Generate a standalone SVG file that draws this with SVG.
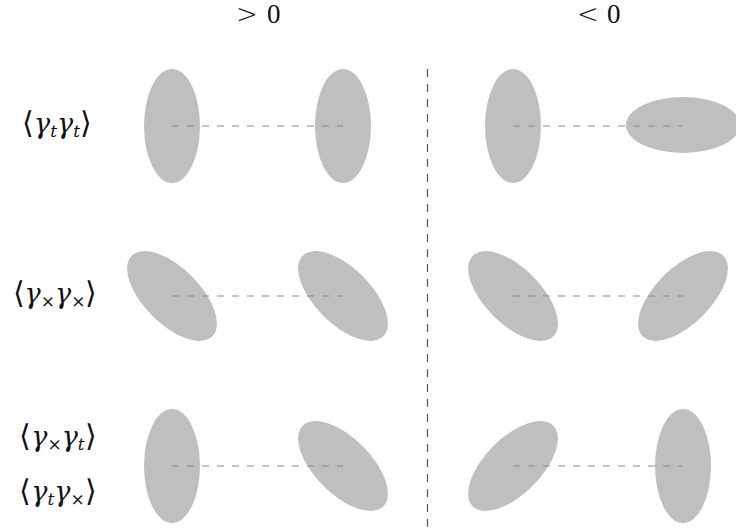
<svg xmlns="http://www.w3.org/2000/svg" width="736" height="529" viewBox="0 0 736 529">
  <style>
    .blob { fill: #bfbfbf; }
    .link { stroke: #8a8a8a; stroke-width: 1.2; stroke-dasharray: 7 8; fill: none; }
    .divider { stroke: #555; stroke-width: 1.2; stroke-dasharray: 8 7; fill: none; }
    .lbl { font-family: "DejaVu Serif", "Liberation Serif", serif; font-size: 27px; fill: #111; }
    .rel { font-family: "DejaVu Sans", sans-serif; font-weight: 300; font-size: 26px; fill: #111; }
    .num { font-family: "Liberation Serif", "DejaVu Serif", serif; font-size: 27px; fill: #111; }
    .it { font-style: italic; }
    .sub { font-size: 17px; }
    .br { font-family: "DejaVu Sans", sans-serif; font-weight: 300; font-size: 30px; }
  </style>

  <!-- column headers -->
  <g id="header-pos">
    <text class="rel" x="236" y="23" textLength="22">&gt;</text>
    <text class="num" x="267" y="23">0</text>
  </g>
  <g id="header-neg">
    <text class="rel" x="577" y="23" textLength="22">&lt;</text>
    <text class="num" x="607" y="23">0</text>
  </g>

  <!-- row labels -->
  <g id="label-tt">
    <text class="lbl" x="57" y="133" text-anchor="middle"><tspan class="br">⟨</tspan><tspan class="it">γ</tspan><tspan class="it sub" dy="4">t</tspan><tspan class="it" dy="-4">γ</tspan><tspan class="it sub" dy="4">t</tspan><tspan class="br" dy="-4">⟩</tspan></text>
  </g>
  <g id="label-xx">
    <text class="lbl" x="55" y="303" text-anchor="middle"><tspan class="br">⟨</tspan><tspan class="it">γ</tspan><tspan class="sub" dy="4">×</tspan><tspan class="it" dy="-4">γ</tspan><tspan class="sub" dy="4">×</tspan><tspan class="br" dy="-4">⟩</tspan></text>
  </g>
  <g id="label-xt">
    <text class="lbl" x="58" y="446" text-anchor="middle"><tspan class="br">⟨</tspan><tspan class="it">γ</tspan><tspan class="sub" dy="4">×</tspan><tspan class="it" dy="-4">γ</tspan><tspan class="it sub" dy="4">t</tspan><tspan class="br" dy="-4">⟩</tspan></text>
  </g>
  <g id="label-tx">
    <text class="lbl" x="58" y="501" text-anchor="middle"><tspan class="br">⟨</tspan><tspan class="it">γ</tspan><tspan class="it sub" dy="4">t</tspan><tspan class="it" dy="-4">γ</tspan><tspan class="sub" dy="4">×</tspan><tspan class="br" dy="-4">⟩</tspan></text>
  </g>

  <!-- ellipse pairs -->
  <g id="r1-pos-a"><ellipse class="blob" cx="172" cy="126" rx="28" ry="57"/></g>
  <g id="r1-pos-b"><ellipse class="blob" cx="343" cy="126" rx="28" ry="57"/></g>
  <g id="r1-neg-a"><ellipse class="blob" cx="513" cy="126" rx="28" ry="57"/></g>
  <g id="r1-neg-b"><ellipse class="blob" cx="683" cy="125" rx="57" ry="28"/></g>

  <g id="r2-pos-a"><ellipse class="blob" cx="172" cy="296" rx="57" ry="28" transform="rotate(45 172 296)"/></g>
  <g id="r2-pos-b"><ellipse class="blob" cx="343" cy="296" rx="57" ry="28" transform="rotate(45 343 296)"/></g>
  <g id="r2-neg-a"><ellipse class="blob" cx="513" cy="296" rx="57" ry="28" transform="rotate(45 513 296)"/></g>
  <g id="r2-neg-b"><ellipse class="blob" cx="683" cy="296" rx="57" ry="28" transform="rotate(-45 683 296)"/></g>

  <g id="r3-pos-a"><ellipse class="blob" cx="172" cy="466" rx="28" ry="57"/></g>
  <g id="r3-pos-b"><ellipse class="blob" cx="343" cy="466" rx="57" ry="28" transform="rotate(45 343 466)"/></g>
  <g id="r3-neg-a"><ellipse class="blob" cx="513" cy="466" rx="57" ry="28" transform="rotate(-45 513 466)"/></g>
  <g id="r3-neg-b"><ellipse class="blob" cx="683" cy="466" rx="28" ry="57"/></g>

  <!-- connectors -->
  <g id="connectors">
    <line class="link" x1="172" y1="126" x2="343" y2="126"/>
    <line class="link" x1="513" y1="126" x2="683" y2="126"/>
    <line class="link" x1="172" y1="296" x2="343" y2="296"/>
    <line class="link" x1="513" y1="296" x2="683" y2="296"/>
    <line class="link" x1="172" y1="466" x2="343" y2="466"/>
    <line class="link" x1="513" y1="466" x2="683" y2="466"/>
    <line class="divider" x1="427.5" y1="69" x2="427.5" y2="529"/>
  </g>
</svg>
